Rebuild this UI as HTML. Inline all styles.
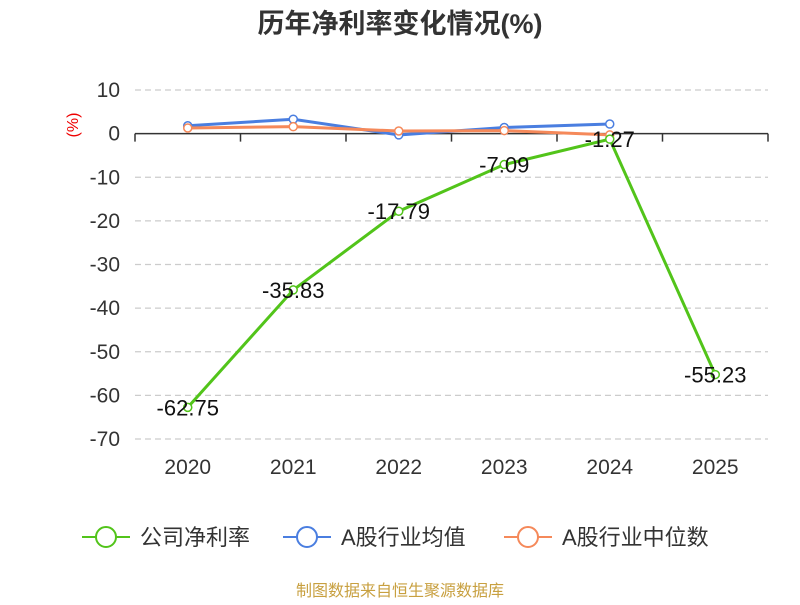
<!DOCTYPE html>
<html><head><meta charset="utf-8"><style>
body{margin:0;background:#fff;}
svg text{font-family:"Liberation Sans","Noto Sans CJK SC",sans-serif;}
</style></head><body>
<svg id="c" width="800" height="600" xmlns="http://www.w3.org/2000/svg">
<text x="400" y="33" text-anchor="middle" font-size="27" font-weight="bold" fill="#333">历年净利率变化情况(%)</text>
<text transform="translate(78,125) rotate(-90)" text-anchor="middle" font-size="16" fill="#e00">(%)</text>
<g id="grid"></g><g id="axes"></g><g id="series"></g><g id="labels"></g>
<g>
<g><line x1="82" y1="537" x2="130" y2="537" stroke="#52c41a" stroke-width="2"/><circle cx="106" cy="537" r="10" fill="#fff" stroke="#52c41a" stroke-width="2"/><text x="140" y="545" font-size="22" fill="#333">公司净利率</text></g>
<g><line x1="283" y1="537" x2="331" y2="537" stroke="#4a7ee0" stroke-width="2"/><circle cx="307" cy="537" r="10" fill="#fff" stroke="#4a7ee0" stroke-width="2"/><text x="341" y="545" font-size="22" fill="#333">A股行业均值</text></g>
<g><line x1="504" y1="537" x2="552" y2="537" stroke="#f5895a" stroke-width="2"/><circle cx="528" cy="537" r="10" fill="#fff" stroke="#f5895a" stroke-width="2"/><text x="562" y="545" font-size="22" fill="#333">A股行业中位数</text></g>
</g>
<text x="400" y="596" text-anchor="middle" font-size="16" fill="#c8a040">制图数据来自恒生聚源数据库</text>
</svg>
<script>
const categories=["2020","2021","2022","2023","2024","2025"];
const company=[-62.75,-35.83,-17.79,-7.09,-1.27,-55.23];
const industryAvg=[1.8,3.3,-0.3,1.4,2.2];
const industryMedian=[1.3,1.6,0.6,0.7,-0.3];
const yTicks=[10,0,-10,-20,-30,-40,-50,-60,-70];
const NS="http://www.w3.org/2000/svg";
const L=135,R=768,yTop=90,yBot=439,vMax=10,vMin=-70;
const bw=(R-L)/categories.length;
const x=i=>L+bw*(i+0.5);
const y=v=>yTop+(vMax-v)/(vMax-vMin)*(yBot-yTop);
function mk(t,a,p){const e=document.createElementNS(NS,t);for(const k in a)e.setAttribute(k,a[k]);p.appendChild(e);return e;}
const grid=document.getElementById('grid'),axes=document.getElementById('axes'),ser=document.getElementById('series'),lab=document.getElementById('labels');
yTicks.forEach(v=>{
 if(v!==0){const g=mk('line',{x1:L,x2:R,y1:y(v),y2:y(v),stroke:'#ccc','stroke-dasharray':'6,4','stroke-width':1.2},grid);
 
 }
 const t=mk('text',{x:120,y:y(v)+7,'text-anchor':'end','font-size':21,fill:'#333'},axes);t.textContent=v;
 
 
});
const ax=mk('line',{x1:L,x2:R,y1:y(0),y2:y(0),stroke:'#333','stroke-width':1.5},axes);


for(let i=0;i<=categories.length;i++){const tk=mk('line',{x1:L+bw*i,x2:L+bw*i,y1:y(0),y2:y(0)+8,stroke:'#333','stroke-width':1.5},axes);
 
 }
categories.forEach((c,i)=>{const t=mk('text',{x:x(i),y:474,'text-anchor':'middle','font-size':21,fill:'#333'},axes);t.textContent=c;
 
 });
function draw(arr,color,name){
 const pl=mk('polyline',{points:arr.map((v,i)=>x(i)+','+y(v)).join(' '),fill:'none',stroke:color,'stroke-width':3},ser);
 
 
 arr.forEach((v,i)=>{const p=mk('circle',{cx:x(i),cy:y(v),r:4,fill:'#fff',stroke:color,'stroke-width':1.5},ser);
 
 });
}
draw(industryAvg,'#4a7ee0','industry-avg');
draw(industryMedian,'#f5895a','industry-median');
draw(company,'#52c41a','company');
company.forEach((v,i)=>{const t=mk('text',{x:x(i),y:y(v)+8,'text-anchor':'middle','font-size':22,fill:'#111'},lab);t.textContent=v.toFixed(2);
 
 });
</script>
</body></html>
